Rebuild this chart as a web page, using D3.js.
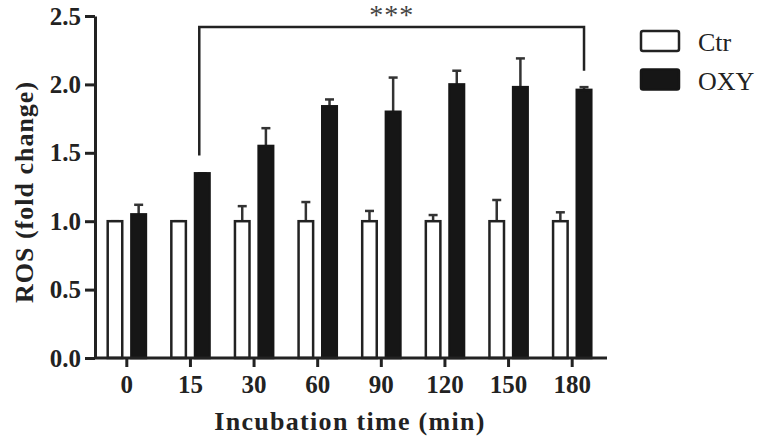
<!DOCTYPE html>
<html>
<head>
<meta charset="utf-8">
<script src="https://cdn.jsdelivr.net/npm/d3@7"></script>
<style>
	body { margin: 0; background: white; }
	svg text { font-family: "Liberation Serif", "Times New Roman", serif; }
</style>
</head>
<body>
<div id="chart"></div>
<script>
var times = ["0", "15", "30", "60", "90", "120", "150", "180"]
var seriesNames = ["Ctr", "OXY"]
var ctrMean = [1.00, 1.00, 1.00, 1.00, 1.00, 1.00, 1.00, 1.00]
var ctrErr = [0, 0, 0.11, 0.14, 0.075, 0.045, 0.155, 0.065]
var oxyMean = [1.05, 1.35, 1.55, 1.84, 1.80, 2.00, 1.98, 1.96]
var oxyErr = [0.07, 0, 0.13, 0.05, 0.25, 0.10, 0.21, 0.02]
var yTicks = [0, 0.5, 1.0, 1.5, 2.0, 2.5]
var sigFrom = "15"
var sigTo = "180"
var sigTop = 2.42
var sigLabel = "***"

var svgWidth = 760
var svgHeight = 440
var ink = "#222"
var barBlack = "#161616"

var svg = d3.select("div#chart")
	.append("svg")
	.attr("width", svgWidth)
	.attr("height", svgHeight)

var x0 = d3.scaleBand()
	.domain(times)
	.range([95, 604])
	.paddingInner(0.36)
	.paddingOuter(0.18)

var x1 = d3.scaleBand()
	.domain(seriesNames)
	.range([0, x0.bandwidth()])
	.paddingInner(0.28)

var y = d3.scaleLinear()
	.domain([0, 2.5])
	.range([358, 16])

var rows = []
for (var i = 0; i < times.length; i++) {
	rows.push({time: times[i], series: "Ctr", mean: ctrMean[i], err: ctrErr[i]})
	rows.push({time: times[i], series: "OXY", mean: oxyMean[i], err: oxyErr[i]})
}

var barX = function(d) { return x0(d.time) + x1(d.series) }
var barMid = function(d) { return barX(d) + x1.bandwidth() / 2 }

// error bars first, bars drawn over them
var errGroup = svg.append("g").attr("id", "errors")
errGroup.selectAll("line.stem")
	.data(rows)
	.enter()
	.append("line")
	.attr("class", "stem")
	.attr("x1", barMid)
	.attr("x2", barMid)
	.attr("y1", function(d) { return y(d.mean) })
	.attr("y2", function(d) { return y(d.mean + d.err) })
	.attr("stroke", "#333")
	.attr("stroke-width", 2.5)
errGroup.selectAll("line.cap")
	.data(rows)
	.enter()
	.append("line")
	.attr("class", "cap")
	.attr("x1", function(d) { return barMid(d) - 4.5 })
	.attr("x2", function(d) { return barMid(d) + 4.5 })
	.attr("y1", function(d) { return y(d.mean + d.err) })
	.attr("y2", function(d) { return y(d.mean + d.err) })
	.attr("stroke", "#333")
	.attr("stroke-width", 2.5)

svg.append("g")
	.attr("id", "bars")
	.selectAll("rect")
	.data(rows)
	.enter()
	.append("rect")
	.attr("x", function(d) { return barX(d) + 1.25 })
	.attr("y", function(d) { return y(d.mean) })
	.attr("width", x1.bandwidth() - 2.5)
	.attr("height", function(d) { return y(0) - y(d.mean) })
	.attr("fill", function(d) { return d.series === "Ctr" ? "white" : barBlack })
	.attr("stroke", function(d) { return d.series === "Ctr" ? ink : barBlack })
	.attr("stroke-width", 2.5)

// axes
var yAxis = svg.append("g")
	.attr("transform", "translate(95,0)")
	.call(d3.axisLeft(y).tickValues(yTicks).tickFormat(d3.format(".1f")).tickSize(10).tickSizeOuter(0).tickPadding(4))
var xAxis = svg.append("g")
	.attr("transform", "translate(0,358)")
	.call(d3.axisBottom(x0).tickSize(9).tickSizeOuter(0).tickPadding(8))
xAxis.select(".domain").attr("d", "M95,0H607")

svg.selectAll(".domain, .tick line")
	.attr("stroke", ink)
	.attr("stroke-width", 3)
svg.selectAll(".tick text")
	.attr("fill", ink)
	.style("font-size", "25px")
	.style("font-weight", "bold")

svg.append("text")
	.attr("x", 350)
	.attr("y", 430)
	.attr("text-anchor", "middle")
	.attr("fill", ink)
	.style("font-size", "26px")
	.style("font-weight", "bold")
	.style("letter-spacing", "1.3px")
	.text("Incubation time (min)")

svg.append("text")
	.attr("transform", "translate(33,192) rotate(-90)")
	.attr("text-anchor", "middle")
	.attr("fill", ink)
	.style("font-size", "26px")
	.style("font-weight", "bold")
	.style("letter-spacing", "1px")
	.text("ROS (fold change)")

// significance bracket
var fromIdx = times.indexOf(sigFrom)
var toIdx = times.indexOf(sigTo)
var leftX = x0(sigFrom) + x1("OXY") + x1.bandwidth() / 2 - 3
var rightX = x0(sigTo) + x1("OXY") + x1.bandwidth() / 2
var leftEnd = oxyMean[fromIdx] + oxyErr[fromIdx] + 0.13
var rightEnd = oxyMean[toIdx] + oxyErr[toIdx] + 0.12
svg.append("path")
	.attr("d", "M" + leftX + "," + y(leftEnd) + "V" + y(sigTop) + "H" + rightX + "V" + y(rightEnd))
	.attr("fill", "none")
	.attr("stroke", ink)
	.attr("stroke-width", 2.5)
svg.append("text")
	.attr("x", (leftX + rightX) / 2)
	.attr("y", 24)
	.attr("text-anchor", "middle")
	.attr("fill", "#444")
	.style("font-size", "28px")
	.style("letter-spacing", "1px")
	.text(sigLabel)

// legend
var legend = svg.append("g").attr("id", "legend")
	.selectAll("g")
	.data(seriesNames)
	.enter()
	.append("g")
	.attr("transform", function(d, i) { return "translate(641," + (31 + i * 38.5) + ")" })
legend.append("rect")
	.attr("width", 38)
	.attr("height", 20)
	.attr("rx", 2)
	.attr("fill", function(d) { return d === "Ctr" ? "white" : barBlack })
	.attr("stroke", function(d) { return d === "Ctr" ? ink : barBlack })
	.attr("stroke-width", 2.5)
legend.append("text")
	.attr("x", 57)
	.attr("y", 20)
	.attr("fill", ink)
	.style("font-size", "26px")
	.text(function(d) { return d })
</script>
</body>
</html>
